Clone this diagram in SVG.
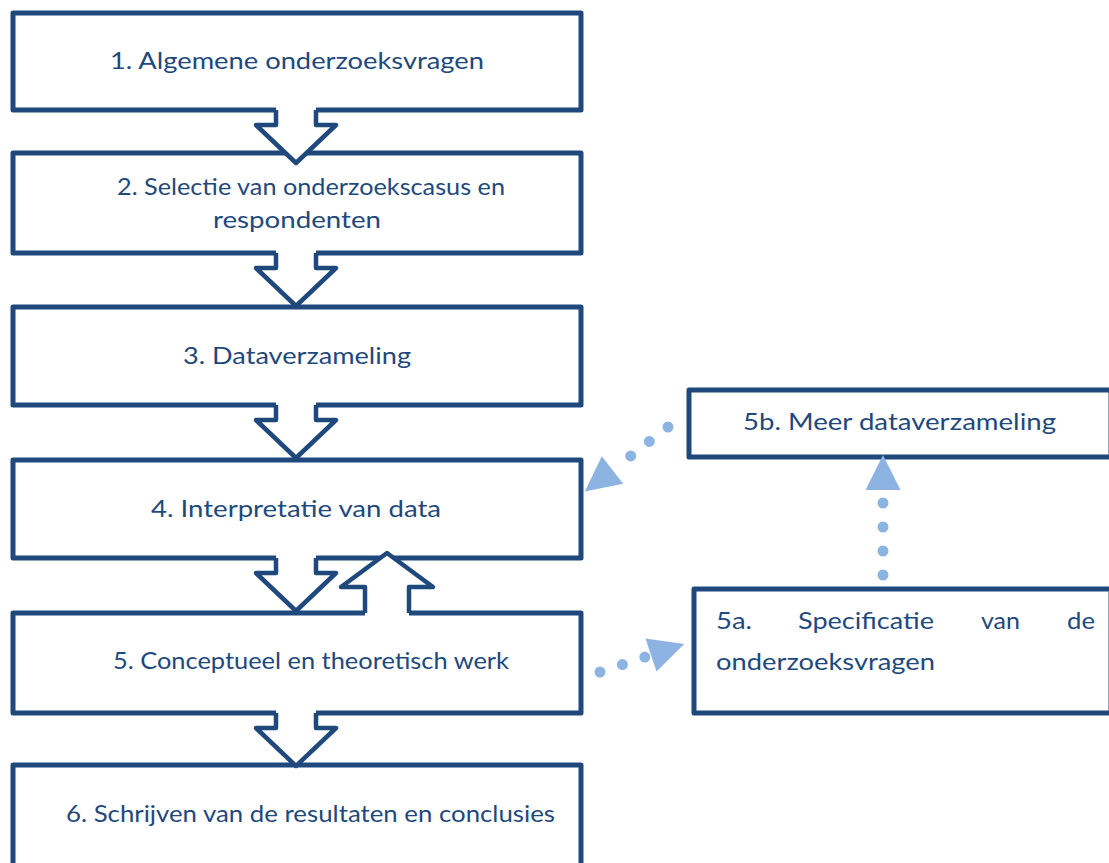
<svg xmlns="http://www.w3.org/2000/svg" width="1109" height="863" viewBox="0 0 1109 863">
<style>
.box{fill:#fff;stroke:#1F497D;stroke-width:5;stroke-linejoin:round}
.t{font-family:Lato,"Liberation Sans",sans-serif;font-size:24px;fill:#1F497D}
.m{text-anchor:middle}
.blk{fill:#fff;stroke:none}
.blo{fill:none;stroke:#1F497D;stroke-width:4.5;stroke-linejoin:round}
.dot{fill:none;stroke:#8DB3E2;stroke-width:11;stroke-linecap:round;stroke-dasharray:0 23.6}
</style>
<defs>
<marker id="ah" markerUnits="userSpaceOnUse" markerWidth="40" markerHeight="40" refX="0" refY="17.5" orient="auto" overflow="visible">
<path d="M0,0 L35,17.5 L0,35 Z" fill="#8DB3E2"/>
</marker>
</defs>
<rect width="1109" height="863" fill="#fff"/>
<g id="n1"><rect class="box" x="13" y="13" width="568" height="97"/><text class="t m" x="297" y="69" textLength="374" lengthAdjust="spacingAndGlyphs">1. Algemene onderzoeksvragen</text></g>
<g id="n2"><rect class="box" x="13" y="153" width="568" height="100"/><text class="t m" x="311" y="195" textLength="388" lengthAdjust="spacingAndGlyphs">2. Selectie van onderzoekscasus en</text><text class="t m" x="297" y="228" textLength="168" lengthAdjust="spacingAndGlyphs">respondenten</text></g>
<g id="n3"><rect class="box" x="13" y="307" width="568" height="98"/><text class="t m" x="297" y="364" textLength="228" lengthAdjust="spacingAndGlyphs">3. Dataverzameling</text></g>
<g id="n4"><rect class="box" x="13" y="460" width="568" height="98"/><text class="t m" x="296" y="517" textLength="290" lengthAdjust="spacingAndGlyphs">4. Interpretatie van data</text></g>
<g id="n5"><rect class="box" x="13" y="613" width="568" height="100"/><text class="t m" x="311" y="669" textLength="396" lengthAdjust="spacingAndGlyphs">5. Conceptueel en theoretisch werk</text></g>
<g id="n6"><rect class="box" x="13" y="765" width="568" height="120"/><text class="t m" x="310.5" y="822" textLength="489" lengthAdjust="spacingAndGlyphs">6. Schrijven van de resultaten en conclusies</text></g>
<g id="n5b"><rect class="box" x="689" y="390" width="422" height="67"/><text class="t m" x="899.5" y="430" textLength="313" lengthAdjust="spacingAndGlyphs">5b. Meer dataverzameling</text></g>
<g id="n5a"><rect class="box" x="694" y="589" width="417" height="124"/>
<text class="t" x="716" y="629" textLength="36" lengthAdjust="spacingAndGlyphs">5a.</text>
<text class="t" x="798" y="629" textLength="136" lengthAdjust="spacingAndGlyphs">Specificatie</text>
<text class="t" x="981" y="629" textLength="39" lengthAdjust="spacingAndGlyphs">van</text>
<text class="t" x="1067" y="629" textLength="28" lengthAdjust="spacingAndGlyphs">de</text>
<text class="t" x="716" y="670" textLength="219" lengthAdjust="spacingAndGlyphs">onderzoeksvragen</text></g>
<g id="connectors">
<g id="a12"><path class="blk" d="M276,107 L316,107 L316,125 L336,125 L296,163 L256,125 L276,125 Z"/><path class="blo" d="M276,110 L276,125 L256,125 L296,163 L336,125 L316,125 L316,110"/></g>
<g id="a23"><path class="blk" d="M276,250 L316,250 L316,268 L336,268 L296,306 L256,268 L276,268 Z"/><path class="blo" d="M276,253 L276,268 L256,268 L296,306 L336,268 L316,268 L316,253"/></g>
<g id="a34"><path class="blk" d="M276,402 L316,402 L316,420 L336,420 L296,458 L256,420 L276,420 Z"/><path class="blo" d="M276,405 L276,420 L256,420 L296,458 L336,420 L316,420 L316,405"/></g>
<g id="a45"><path class="blk" d="M276,555 L316,555 L316,573 L336,573 L296,611 L256,573 L276,573 Z"/><path class="blo" d="M276,558 L276,573 L256,573 L296,611 L336,573 L316,573 L316,558"/></g>
<g id="a56"><path class="blk" d="M276,710 L316,710 L316,728 L336,728 L296,766 L256,728 L276,728 Z"/><path class="blo" d="M276,713 L276,728 L256,728 L296,766 L336,728 L316,728 L316,713"/></g>
<g id="a54"><path class="blk" d="M365,616 L409,616 L409,587 L433,587 L387,553 L341,587 L365,587 Z"/><path class="blo" d="M365,613 L365,587 L341,587 L387,553 L433,587 L409,587 L409,613"/></g>
<path class="dot" d="M668,427 L612.5,470" marker-end="url(#ah)"/>
<path class="dot" d="M600,672 L651,655" marker-end="url(#ah)"/>
<path class="dot" d="M883,575 L883,490" marker-end="url(#ah)" style="stroke-dasharray:0 24"/>
</g>
</svg>
